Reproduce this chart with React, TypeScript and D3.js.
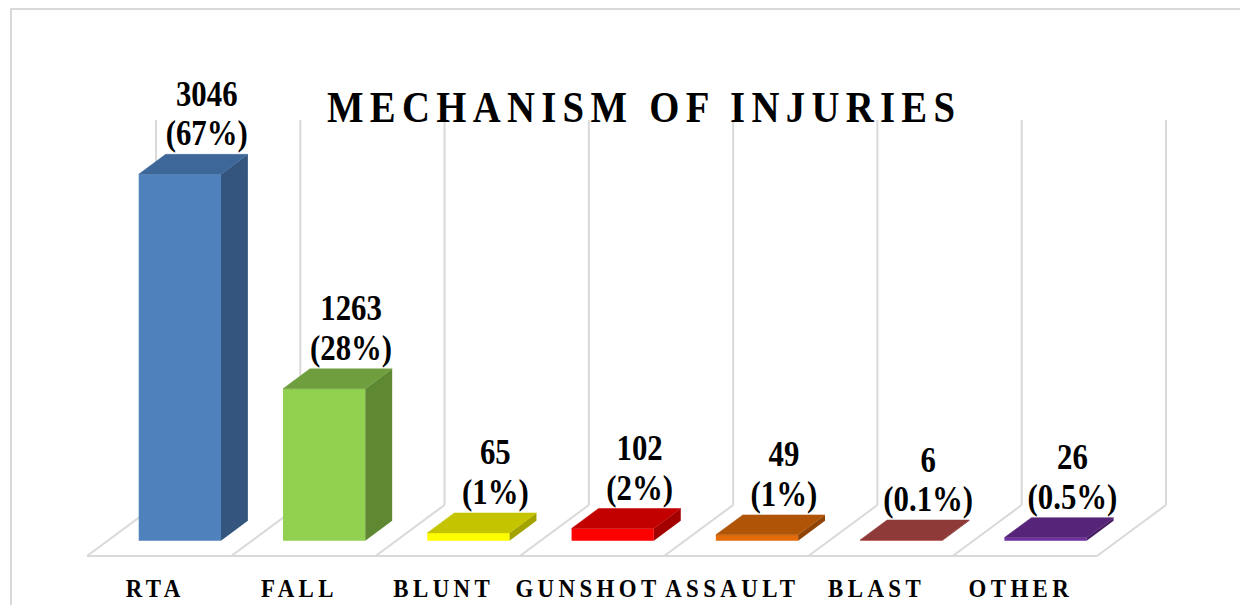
import React, { useEffect, useRef } from "react";
import * as d3 from "d3";

const categories = ["RTA", "FALL", "BLUNT", "GUNSHOT", "ASSAULT", "BLAST", "OTHER"];
const values = [3046, 1263, 65, 102, 49, 6, 26];
const percents = ["67%", "28%", "1%", "2%", "1%", "0.1%", "0.5%"];
const frontColors = ["#4F81BD", "#92D050", "#FFFF00", "#FF0000", "#E46C0A", "#C0504D", "#7030A0"];
const topColors = ["#3D6699", "#6F9E3E", "#C4C400", "#C20000", "#B05407", "#8E3A38", "#562479"];
const sideColors = ["#34557E", "#5F8832", "#A3A300", "#A30000", "#8F4406", "#74302E", "#471E63"];
const yMax = 3200;

const App: React.FC = () => {
  const svgRef = useRef<SVGSVGElement | null>(null);

  useEffect(() => {
    if (!svgRef.current) return;
    const svg = d3.select(svgRef.current);
    svg.selectAll("*").remove();

    const width = 1240;
    const height = 605;
    const floorY = 556;
    const depthX = 69;
    const depthY = 51;
    const t0 = 0.3;
    const t1 = 0.69;
    const grid = "#d9d9d9";
    const font = "'Liberation Serif', 'Times New Roman', serif";
    const sx = 0.88; // text in the original is narrow and tall
    const lineH = 39.5;

    svg.attr("width", width).attr("height", height);

    // outer frame (cropped at right / bottom)
    svg
      .append("rect")
      .attr("x", 11)
      .attr("y", 9)
      .attr("width", 1400)
      .attr("height", 800)
      .attr("fill", "#fff")
      .attr("stroke", grid)
      .attr("stroke-width", 2);

    const x = d3
      .scaleBand<string>()
      .domain(categories)
      .range([87, 1097])
      .paddingInner(0.43)
      .paddingOuter(0.215);
    const step = x.step();
    const x0 = 87;

    const h = d3.scaleLinear().domain([0, yMax]).range([0, 385]);

    const P = (px: number, t: number, hh: number) =>
      `${px + t * depthX},${floorY - t * depthY - hh}`;

    const gridG = svg.append("g").attr("stroke", grid).attr("stroke-width", 2).attr("fill", "none");
    const bounds = d3.range(categories.length + 1).map((i) => x0 + i * step);

    // back wall verticals
    gridG
      .selectAll("line.wall")
      .data(bounds)
      .enter()
      .append("line")
      .attr("x1", (d) => d + depthX)
      .attr("x2", (d) => d + depthX)
      .attr("y1", floorY - depthY)
      .attr("y2", floorY - depthY - h(yMax));

    // floor diagonals
    gridG
      .selectAll("line.floor")
      .data(bounds)
      .enter()
      .append("line")
      .attr("x1", (d) => d)
      .attr("y1", floorY)
      .attr("x2", (d) => d + depthX)
      .attr("y2", floorY - depthY);

    gridG
      .append("line")
      .attr("x1", bounds[0])
      .attr("x2", bounds[bounds.length - 1])
      .attr("y1", floorY)
      .attr("y2", floorY);

    // title
    svg
      .append("text")
      .attr("transform", `translate(641,122) scale(${sx},1)`)
      .attr("text-anchor", "middle")
      .attr("font-family", font)
      .attr("font-weight", "bold")
      .attr("font-size", 44)
      .attr("textLength", 628 / sx)
      .attr("lengthAdjust", "spacing")
      .text("MECHANISM OF  INJURIES");

    const bw = x.bandwidth();
    const bars = svg
      .append("g")
      .selectAll("g")
      .data(categories.map((c, i) => ({ c, i, v: values[i] })))
      .enter()
      .append("g");

    // front face
    bars
      .append("polygon")
      .attr("points", (d) => {
        const l = x(d.c)!;
        const r = l + bw;
        const hh = Math.max(h(d.v), 0.8);
        return [P(l, t0, 0), P(r, t0, 0), P(r, t0, hh), P(l, t0, hh)].join(" ");
      })
      .attr("fill", (d) => frontColors[d.i]);

    // side face
    bars
      .append("polygon")
      .attr("points", (d) => {
        const r = x(d.c)! + bw;
        const hh = Math.max(h(d.v), 0.8);
        return [P(r, t0, 0), P(r, t1, 0), P(r, t1, hh), P(r, t0, hh)].join(" ");
      })
      .attr("fill", (d) => sideColors[d.i]);

    // top face
    bars
      .append("polygon")
      .attr("points", (d) => {
        const l = x(d.c)!;
        const r = l + bw;
        const hh = Math.max(h(d.v), 0.8);
        return [P(l, t0, hh), P(r, t0, hh), P(r, t1, hh), P(l, t1, hh)].join(" ");
      })
      .attr("fill", (d) => topColors[d.i])
      .attr("stroke", (d) => topColors[d.i])
      .attr("stroke-width", 0.5);

    // value labels: two lines in one text
    const labelX = (d: { c: string }) => x(d.c)! + bw / 2 + t1 * depthX;
    const labelY = (d: { v: number }) => floorY - t1 * depthY - h(d.v) - 9;

    const lbl = bars
      .append("text")
      .attr("transform", (d) => `translate(${labelX(d)},${labelY(d) - lineH}) scale(${sx},1)`)
      .attr("text-anchor", "middle")
      .attr("font-family", font)
      .attr("font-weight", "bold")
      .attr("font-size", 35);
    lbl
      .append("tspan")
      .attr("x", 0)
      .attr("y", 0)
      .text((d) => d3.format("d")(d.v));
    lbl
      .append("tspan")
      .attr("x", 0)
      .attr("y", lineH)
      .text((d) => `(${percents[d.i]})`);

    // category labels
    svg
      .append("g")
      .selectAll("text")
      .data(categories)
      .enter()
      .append("text")
      .attr("transform", (d) => `translate(${x(d)! + bw / 2 - 4},597) scale(${sx},1)`)
      .attr("text-anchor", "middle")
      .attr("font-family", font)
      .attr("font-weight", "bold")
      .attr("font-size", 26)
      .attr("letter-spacing", 5)
      .text((d) => d);
  }, []);

  return (
    <div style={{ position: "absolute", left: 0, top: 0 }}>
      <svg ref={svgRef}></svg>
    </div>
  );
};

export default App;
